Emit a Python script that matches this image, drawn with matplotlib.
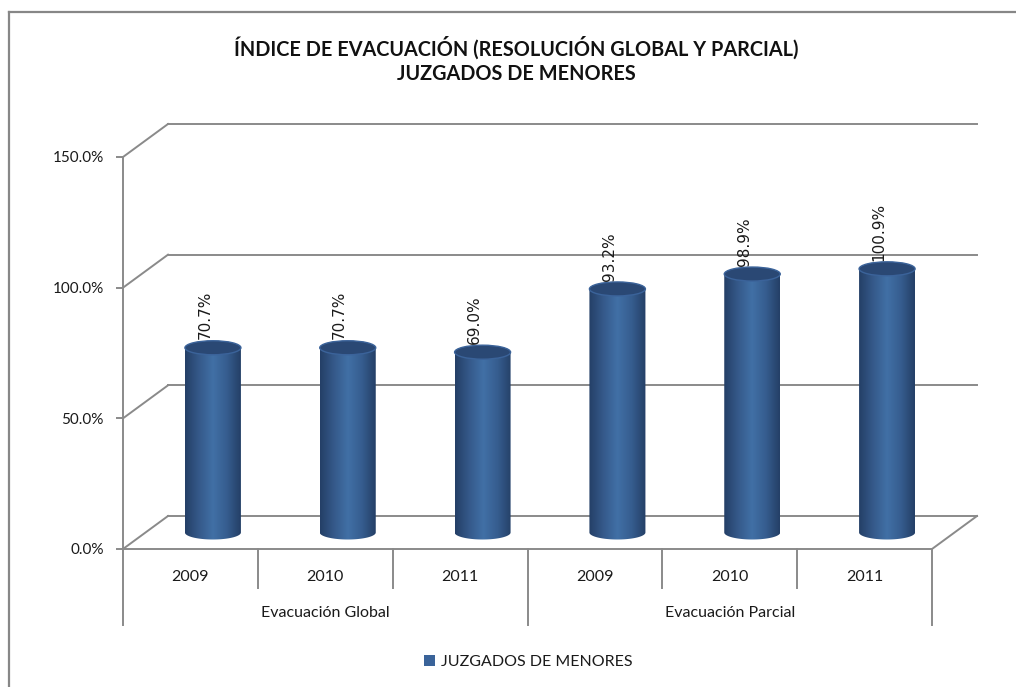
import numpy as np
import matplotlib
matplotlib.use("Agg")
import matplotlib.pyplot as plt
from matplotlib.colors import LinearSegmentedColormap
from matplotlib.lines import Line2D
from matplotlib.patches import Ellipse, PathPatch, Patch
from matplotlib.path import Path

plt.rcParams['font.family'] = ['Lato', 'DejaVu Sans']

# data
years = ['2009', '2010', '2011', '2009', '2010', '2011']
groups = ['Evacuación Global', 'Evacuación Parcial']
values = [70.7, 70.7, 69.0, 93.2, 98.9, 100.9]
series_name = 'JUZGADOS DE MENORES'
title = 'ÍNDICE DE EVACUACIÓN (RESOLUCIÓN GLOBAL Y PARCIAL)\nJUZGADOS DE MENORES'

W, H = 1016, 687
fig = plt.figure(figsize=(W / 100, H / 100), dpi=100)
fig.patch.set_facecolor('white')

# chart frame (top and left edges only)
fig.add_artist(Line2D([9 / W, 1.0], [1 - 12 / H, 1 - 12 / H], color='#878787', lw=1.6))
fig.add_artist(Line2D([9 / W, 9 / W], [1 - 12 / H, 0.0], color='#878787', lw=1.6))

fig.text(516 / W, 1 - 60 / H, title, ha='center', va='center', fontsize=14.3,
         fontweight='bold', color='#111111', linespacing=1.3)

# front plane of the 3D box
ax = fig.add_axes([123 / W, 1 - 549 / H, (932 - 123) / W, (549 - 157) / H])
ax.set_xlim(0, 6)
ax.set_ylim(0, 150)
ax.set_facecolor('none')

grid_c = '#8a8a8a'
px_x = (932 - 123) / 6
px_y = (549 - 157) / 150
DX = 45 / px_x      # depth offset in data units
DY = 33 / px_y

for s in ['top', 'right']:
    ax.spines[s].set_visible(False)
for s in ['left', 'bottom']:
    ax.spines[s].set_color(grid_c)
    ax.spines[s].set_linewidth(1.4)

ax.set_yticks([0, 50, 100, 150])
ax.yaxis.set_major_formatter(lambda v, p: f'{v:.1f}%')
ax.tick_params(axis='y', length=5, width=1.4, color=grid_c, labelsize=11,
               labelcolor='#1a1a1a', pad=9)
ax.set_xticks([])

# back wall gridlines and side-wall diagonals
for v in [0, 50, 100, 150]:
    ax.plot([DX, 6 + DX], [v + DY, v + DY], color=grid_c, lw=1.4, clip_on=False)
    ax.plot([0, DX], [v, v + DY], color=grid_c, lw=1.4, clip_on=False)
# floor right edge
ax.plot([6, 6 + DX], [0, DY], color=grid_c, lw=1.4, clip_on=False)

# category axis: two-level labels
tick_y1 = -(588 - 549) / px_y
tick_y2 = -(625 - 549) / px_y
for i in range(7):
    bottom = tick_y2 if i % 3 == 0 else tick_y1
    ax.plot([i, i], [0, bottom], color=grid_c, lw=1.4, clip_on=False)
for i, yr in enumerate(years):
    ax.text(i + 0.5, -(577 - 549) / px_y, yr, ha='center', va='center',
            fontsize=11.5, color='#1a1a1a', clip_on=False)
for g, name in enumerate(groups):
    ax.text(g * 3 + 1.5, -(613 - 549) / px_y, name, ha='center', va='center',
            fontsize=11.5, color='#1a1a1a', clip_on=False)

# cylinders
cmap = LinearSegmentedColormap.from_list(
    'cyl', ['#243f66', '#35598a', '#4170a6', '#365d8f', '#243f66'])
grad = np.linspace(0, 1, 256).reshape(1, -1)
w = 56 / px_x
eh = 14 / px_y
base = DY / 2
t = np.linspace(np.pi, 2 * np.pi, 60)

for i, v in enumerate(values):
    cx = i + 0.5 + DX / 2
    top = v + DY / 2
    ex = cx + (w / 2) * np.cos(t)
    ey = base + (eh / 2) * np.sin(t)
    verts = [(cx - w / 2, top)] + list(zip(ex, ey)) + [(cx + w / 2, top), (cx - w / 2, top)]
    body = PathPatch(Path(verts, closed=True), facecolor='none', edgecolor='none')
    ax.add_patch(body)
    im = ax.imshow(grad, cmap=cmap, aspect='auto', interpolation='bicubic',
                   extent=(cx - w / 2, cx + w / 2, base - eh, top), zorder=3)
    im.set_clip_path(body)
    cap = Ellipse((cx, top), w, eh, facecolor='#2a4874', edgecolor='#3b639a',
                  lw=1.0, zorder=4)
    ax.add_patch(cap)
    ax.text(cx - 0.06, top + eh / 2 + 0.5, f'{v:.1f}%', rotation=90,
            ha='center', va='bottom', fontsize=11, color='#1a1a1a',
            family=['DejaVu Sans'], zorder=5, clip_on=False)

ax.set_xlim(0, 6)
ax.set_ylim(0, 150)

fig.legend(handles=[Patch(facecolor='#3a6399', edgecolor='none', label=series_name)],
           loc='center', bbox_to_anchor=(528 / W, 1 - 662 / H), frameon=False,
           fontsize=11.5, handlelength=0.7, handleheight=0.7, handletextpad=0.35,
           labelcolor='#1a1a1a')

fig.savefig('out.png', dpi=100)
